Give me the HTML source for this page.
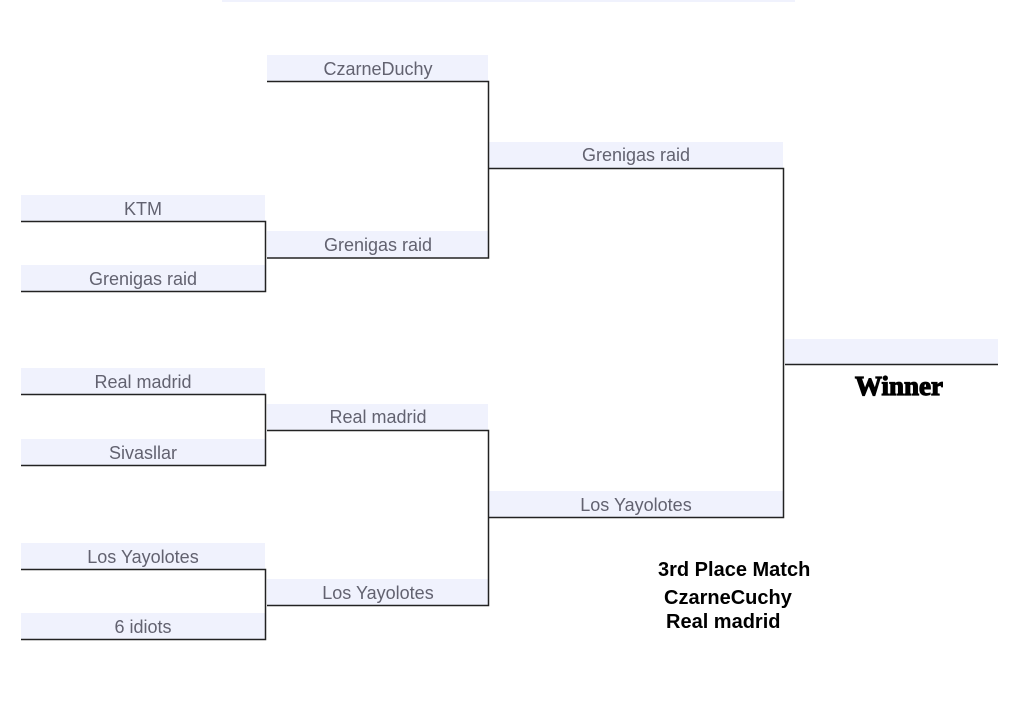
<!DOCTYPE html>
<html><head><meta charset="utf-8"><style>
html,body{margin:0;padding:0;background:#fff;width:1013px;height:701px;overflow:hidden}
svg{display:block}
.t{font-family:"Liberation Sans",sans-serif;font-size:18px;fill:#626270}
.b{font-family:"Liberation Sans",sans-serif;font-size:20px;font-weight:bold;fill:#000}
</style></head><body>
<svg width="1013" height="701" xmlns="http://www.w3.org/2000/svg">
<rect x="222" y="0" width="573" height="2" fill="#f0f2fd"/>
<g fill="#f0f2fd">
<rect x="267" y="55" width="221" height="26"/>
<rect x="489" y="142" width="294" height="26"/>
<rect x="21" y="195" width="244" height="26"/>
<rect x="21" y="265" width="244" height="26"/>
<rect x="267" y="231" width="221" height="27"/>
<rect x="21" y="368" width="244" height="26"/>
<rect x="21" y="439" width="244" height="26"/>
<rect x="267" y="404" width="221" height="26"/>
<rect x="489" y="491" width="294" height="26"/>
<rect x="21" y="543" width="244" height="26"/>
<rect x="21" y="613" width="244" height="26"/>
<rect x="267" y="579" width="221" height="26"/>
<rect x="785" y="339" width="213" height="25"/>
</g>
<g stroke="#222" stroke-width="1.5" fill="none">
<path d="M267 81.5H488.5V258H267"/>
<path d="M21 221.5H265.5V291.5H21"/>
<path d="M21 394.5H265.5V465.5H21"/>
<path d="M21 569.5H265.5V639.5H21"/>
<path d="M267 430.5H488.5V605.5H267"/>
<path d="M489 168.5H783.5V517.5H489"/>
<path d="M785 364.5H998"/>
</g>
<g class="t" text-anchor="middle">
<text x="378" y="75">CzarneDuchy</text>
<text x="636" y="161">Grenigas raid</text>
<text x="143" y="215">KTM</text>
<text x="143" y="285">Grenigas raid</text>
<text x="378" y="251">Grenigas raid</text>
<text x="143" y="388">Real madrid</text>
<text x="143" y="459">Sivasllar</text>
<text x="378" y="423">Real madrid</text>
<text x="636" y="511">Los Yayolotes</text>
<text x="143" y="563">Los Yayolotes</text>
<text x="143" y="633">6 idiots</text>
<text x="378" y="599">Los Yayolotes</text>
</g>
<text x="899" y="395" text-anchor="middle" style="font-family:'Liberation Serif',serif;font-size:27px;font-weight:900;fill:#000;stroke:#000;stroke-width:1.2">Winner</text>
<text class="b" x="658" y="576">3rd Place Match</text>
<text class="b" x="664" y="604">CzarneCuchy</text>
<text class="b" x="666" y="628">Real madrid</text>
</svg>
</body></html>
